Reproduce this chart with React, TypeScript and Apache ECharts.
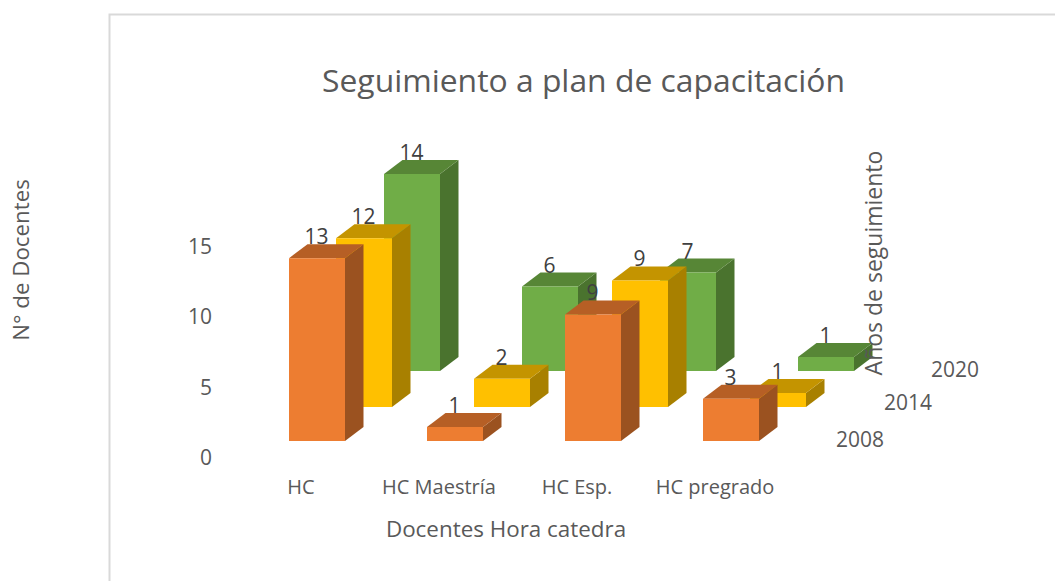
import React, { useEffect, useRef } from "react";
import * as echarts from "echarts";

const categories = ["HC", "HC Maestría", "HC Esp.", "HC pregrado"];
const years = ["2008", "2014", "2020"];
const values2008 = [13, 1, 9, 3];
const values2014 = [12, 2, 9, 1];
const values2020 = [14, 6, 7, 1];
const yTicks = { min: 0, max: 15, interval: 5 };

const FONT = "'Open Sans', sans-serif";
const BAR_W = 56;
const DX = 18.5;
const DY = -14;

const box = (xOff: number, yOff: number, colors: string[]) => (params: any, api: any) => {
  const p0 = api.coord([api.value(0), 0]);
  const p1 = api.coord([api.value(0), api.value(1)]);
  const x0 = p0[0] + xOff;
  const x1 = x0 + BAR_W;
  const yb = p0[1] + yOff;
  const yt = p1[1] + yOff;
  const [front, side, top] = colors;
  return {
    type: "group",
    children: [
      {
        type: "polygon",
        shape: { points: [[x1, yb], [x1 + DX, yb + DY], [x1 + DX, yt + DY], [x1, yt]] },
        style: { fill: side },
      },
      {
        type: "polygon",
        shape: { points: [[x0, yt], [x0 + DX, yt + DY], [x1 + DX, yt + DY], [x1, yt]] },
        style: { fill: top },
      },
      { type: "rect", shape: { x: x0, y: yt, width: BAR_W, height: yb - yt }, style: { fill: front } },
      {
        type: "text",
        z2: 100,
        style: {
          x: x0 + BAR_W / 2 - 0.5,
          y: yt - 22,
          text: String(api.value(1)),
          fill: "#404040",
          font: `21px ${FONT}`,
          textAlign: "center",
          textVerticalAlign: "middle",
        },
      },
    ],
  };
};

const toData = (vals: number[]) => vals.map((v, i) => [i, v]);

export default function App() {
  const ref = useRef<HTMLDivElement>(null);
  useEffect(() => {
    const chart = echarts.init(ref.current!, undefined, { renderer: "svg" });
    const gray = "#595959";
    chart.setOption({
      animation: false,
      backgroundColor: "#fff",
      title: {
        text: "Seguimiento a plan de capacitación",
        left: 578.5,
        top: 58,
        textAlign: "center",
        textStyle: { fontFamily: FONT, fontSize: 31.85, fontWeight: "normal", color: gray },
      },
      grid: { left: 232, width: 552, top: 246, height: 211, outerBoundsMode: "none" },
      xAxis: {
        type: "category",
        data: categories,
        axisLine: { show: false },
        axisTick: { show: false },
        axisLabel: { color: gray, fontFamily: FONT, fontSize: 20, margin: 19, interval: 0, hideOverlap: false },
      },
      yAxis: {
        type: "value",
        ...yTicks,
        splitLine: { show: false },
        axisLine: { show: false },
        axisTick: { show: false },
        axisLabel: { color: gray, fontFamily: FONT, fontSize: 21, margin: 20 },
      },
      graphic: [
        {
          type: "rect",
          z: -10,
          silent: true,
          shape: { x: 109.5, y: 14.5, width: 1000, height: 640 },
          style: { fill: "none", stroke: "#D9D9D9", lineWidth: 2 },
        },
        {
          type: "text",
          z: 50,
          x: 873,
          y: 263,
          rotation: Math.PI / 2,
          style: {
            text: "Años de seguimiento",
            fill: gray,
            font: `23px ${FONT}`,
            textAlign: "center",
            textVerticalAlign: "middle",
          },
        },
        {
          type: "text",
          z: 50,
          x: 20,
          y: 260,
          rotation: Math.PI / 2,
          style: {
            text: "N° de Docentes",
            fill: gray,
            font: `22.3px ${FONT}`,
            textAlign: "center",
            textVerticalAlign: "middle",
          },
        },
        {
          type: "text",
          z: 50,
          x: 506,
          y: 528,
          style: {
            text: "Docentes Hora catedra",
            fill: gray,
            font: `22.4px ${FONT}`,
            textAlign: "center",
            textVerticalAlign: "middle",
          },
        },
        ...years.map((y, i) => ({
          type: "text",
          z: 50,
          style: {
            x: [860, 908, 955][i],
            y: [439, 402, 369][i],
            text: y,
            fill: gray,
            font: `21px ${FONT}`,
            textAlign: "center",
            textVerticalAlign: "middle",
          },
        })),
      ],
      series: [
        {
          type: "custom",
          name: years[2],
          data: toData(values2020),
          clip: false,
          renderItem: box(83, -86, ["#70AD47", "#4A732E", "#578636"]),
        },
        {
          type: "custom",
          name: years[1],
          data: toData(values2014),
          clip: false,
          renderItem: box(35, -50, ["#FFC000", "#A88000", "#C49400"]),
        },
        {
          type: "custom",
          name: years[0],
          data: toData(values2008),
          clip: false,
          renderItem: box(-12, -16, ["#ED7D31", "#9B5220", "#B65F25"]),
        },
      ],
    });
    return () => chart.dispose();
  }, []);
  return <div ref={ref} style={{ position: "absolute", left: 0, top: 0, width: 1055, height: 581 }} />;
}
